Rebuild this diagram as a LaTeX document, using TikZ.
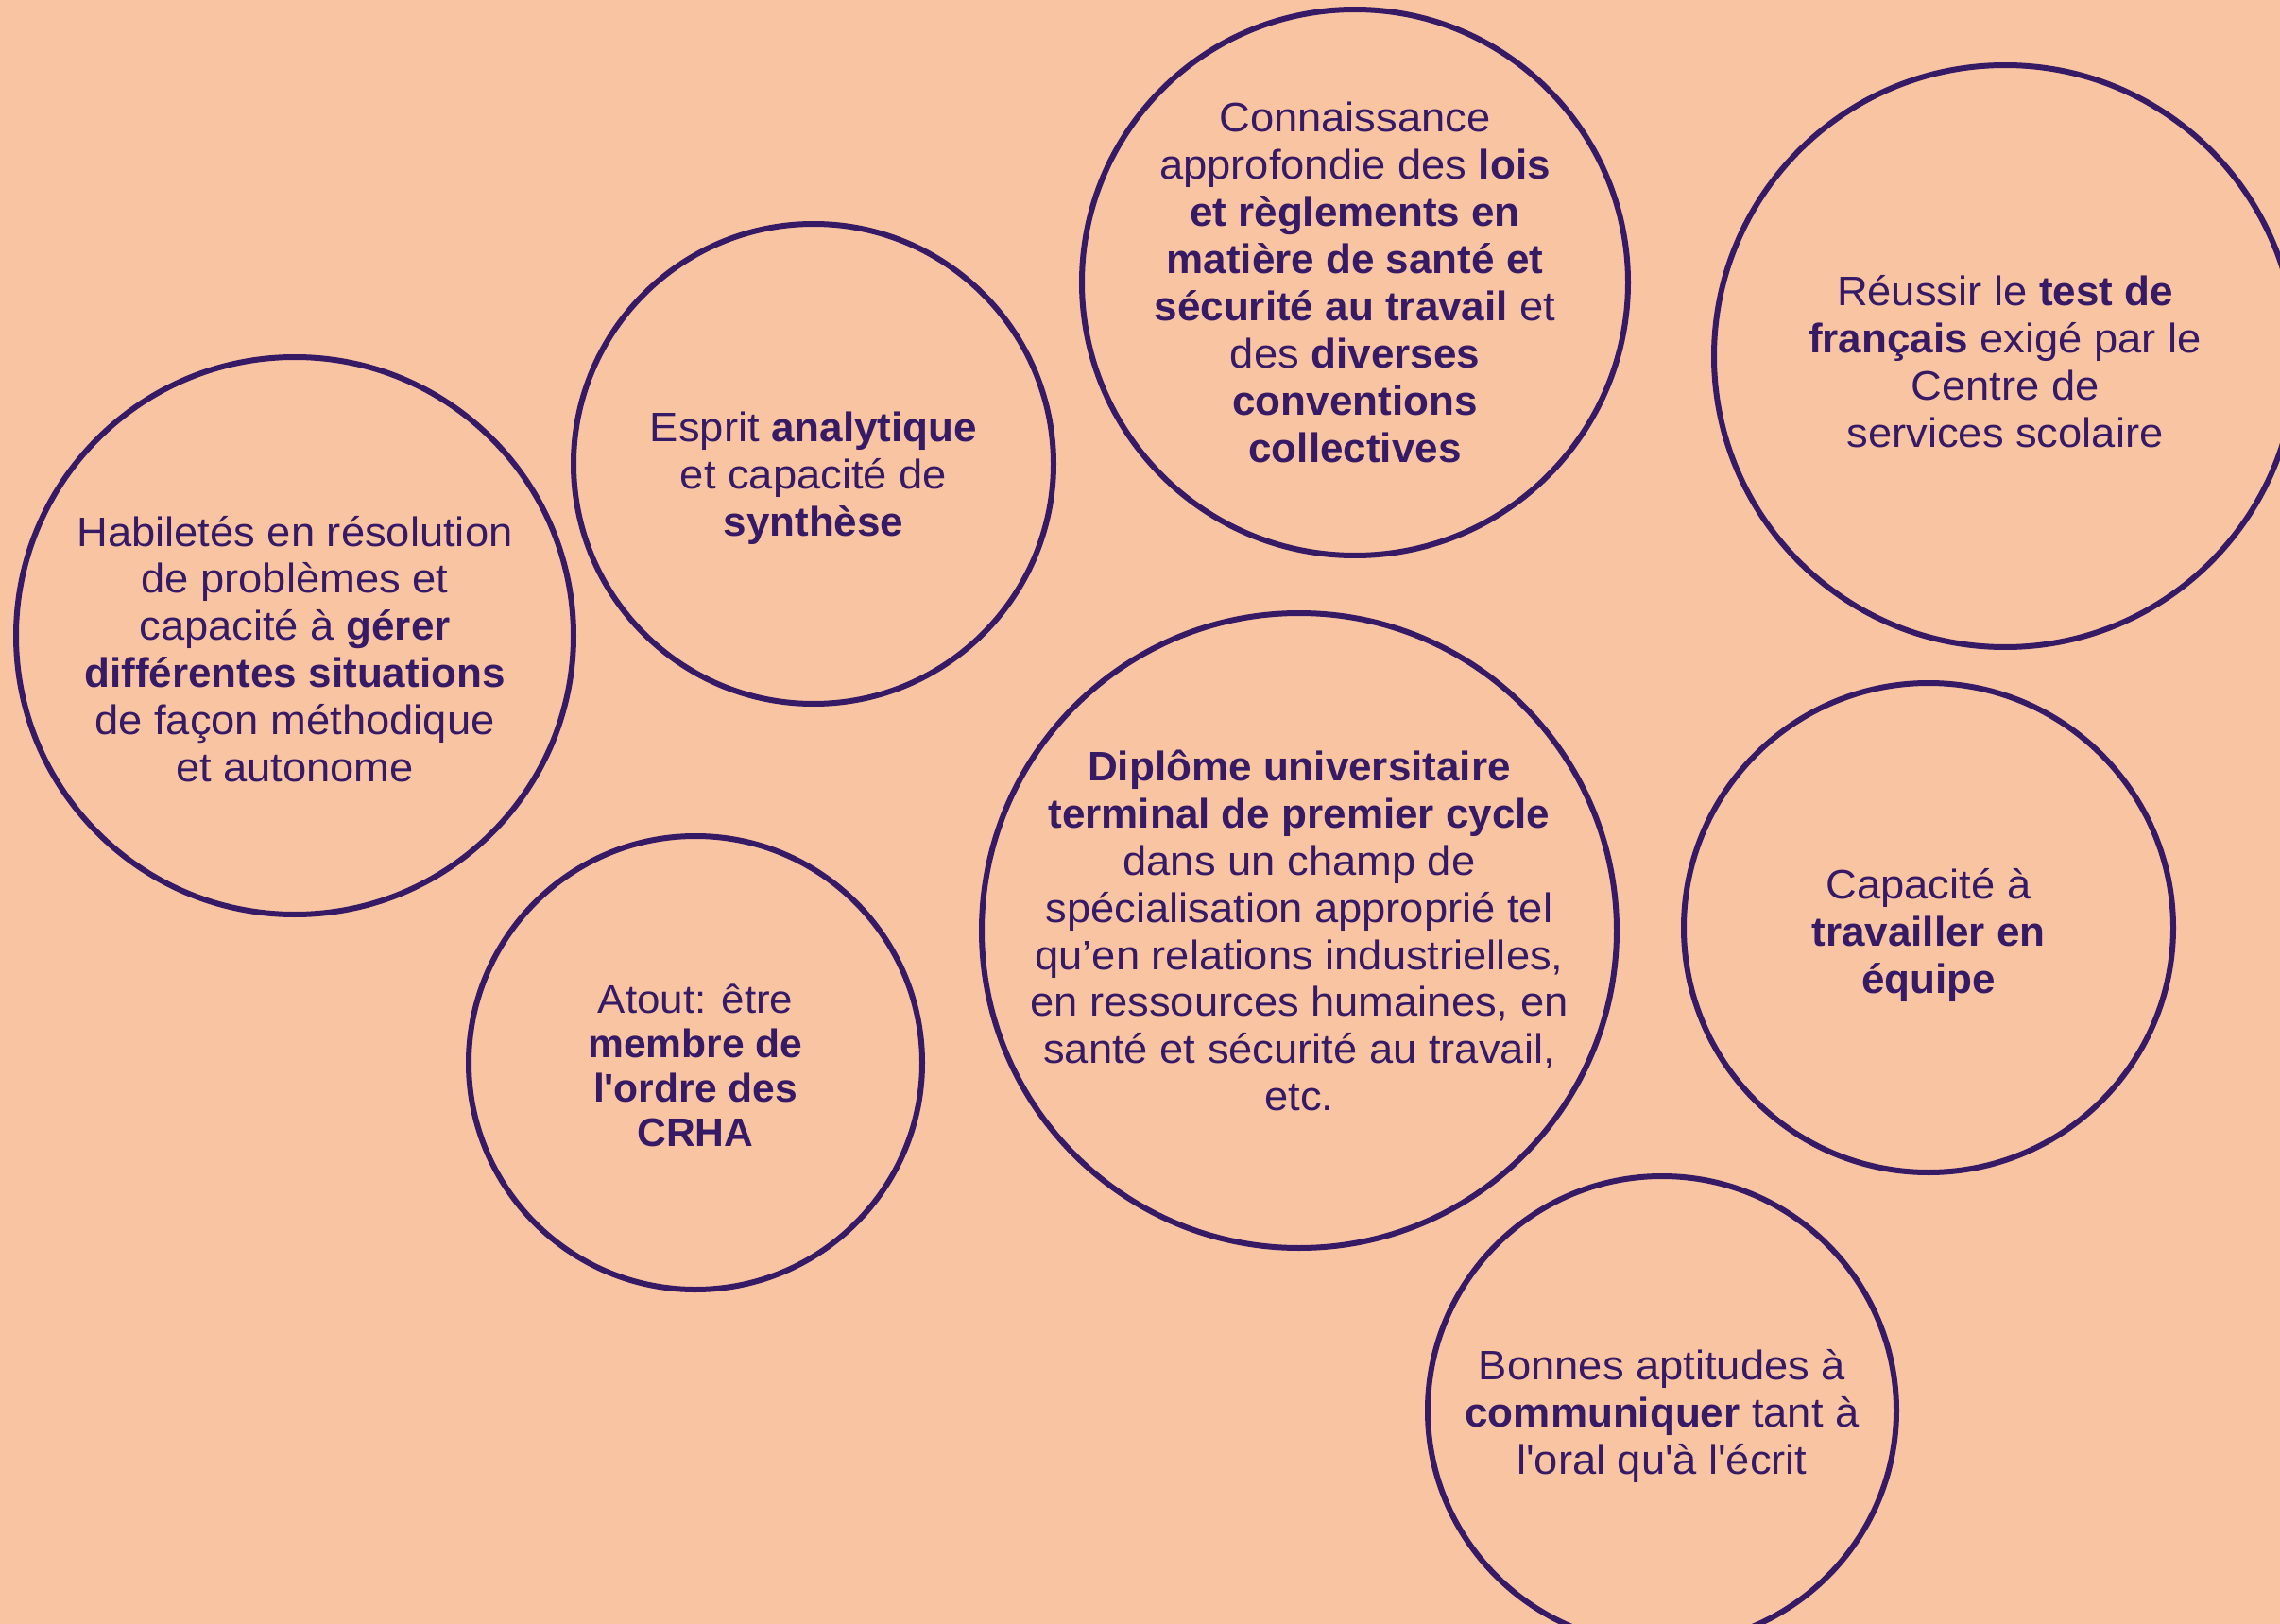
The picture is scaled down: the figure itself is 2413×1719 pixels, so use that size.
\documentclass[tikz,border=0pt]{standalone}
\usepackage{fontspec}
\setmainfont{Liberation Sans}[FakeStretch=1.04, BoldFeatures={FakeStretch=1.01}]
\definecolor{peche}{HTML}{F9C4A2}
\definecolor{violet}{HTML}{361A66}
\tikzset{
    bulle/.style={draw=violet, line width=0.6mm, circle, inner sep=0pt},
    texte/.style={text=violet, align=center, inner sep=0pt, font=\fontsize{12.4}{14.2}\selectfont}
}
\begin{document}
\begin{tikzpicture}[x=0.1mm, y=-0.1mm]
    % Fond de la page
    \useasboundingbox (0,0) rectangle (2413,1719);
    \clip (0,0) rectangle (2413,1719);
    \fill[peche] (0,0) rectangle (2413,1719);

    % Les bulles (centre et diametre)
    \node[bulle, minimum size=59mm]   (habiletes)    at (312,673)   {};
    \node[bulle, minimum size=50.8mm] (esprit)       at (861,491)   {};
    \node[bulle, minimum size=57.8mm] (connaissance) at (1434,299)  {};
    \node[bulle, minimum size=61.6mm] (reussir)      at (2122,377)  {};
    \node[bulle, minimum size=67.2mm] (diplome)      at (1375,985)  {};
    \node[bulle, minimum size=51.8mm] (equipe)       at (2041,982)  {};
    \node[bulle, minimum size=48mm]   (atout)        at (736,1125)  {};
    \node[bulle, minimum size=49.6mm] (communiquer)  at (1759,1493) {};

    % Les textes au centre des bulles
    \node[texte, yshift=-1.4mm] (habiletes-t) at (habiletes) {Habiletés en résolution\\de problèmes et\\capacité à \textbf{gérer}\\\textbf{différentes situations}\\de façon méthodique\\et autonome};
    \node[texte, yshift=-1.5mm] (esprit-t) at (esprit) {Esprit \textbf{analytique}\\et capacité de\\\textbf{synthèse}};
    \node[texte] (connaissance-t) at (connaissance) {Connaissance\\approfondie des \textbf{lois}\\\textbf{et règlements en}\\\textbf{matière de santé et}\\\textbf{sécurité au travail} et\\des \textbf{diverses}\\\textbf{conventions}\\\textbf{collectives}};
    \node[texte, yshift=-0.6mm] (reussir-t) at (reussir) {Réussir le \textbf{test de}\\\textbf{français} exigé par le\\Centre de\\services scolaire};
    \node[texte] (diplome-t) at (diplome) {\textbf{Diplôme universitaire}\\\textbf{terminal de premier cycle}\\dans un champ de\\spécialisation approprié tel\\qu’en relations industrielles,\\en ressources humaines, en\\santé et sécurité au travail,\\etc.};
    \node[texte, yshift=-0.8mm] (equipe-t) at (equipe) {Capacité à\\\textbf{travailler en}\\\textbf{équipe}};
    \node[texte, yshift=-0.3mm, font=\fontsize{12}{13.4}\selectfont] (atout-t) at (atout) {Atout: être\\\textbf{membre de}\\\textbf{l\textquotesingle ordre des}\\\textbf{CRHA}};
    \node[texte, yshift=-0.6mm] (communiquer-t) at (communiquer) {Bonnes aptitudes à\\\textbf{communiquer} tant à\\l\textquotesingle oral qu\textquotesingle à l\textquotesingle écrit};
\end{tikzpicture}
\end{document}
